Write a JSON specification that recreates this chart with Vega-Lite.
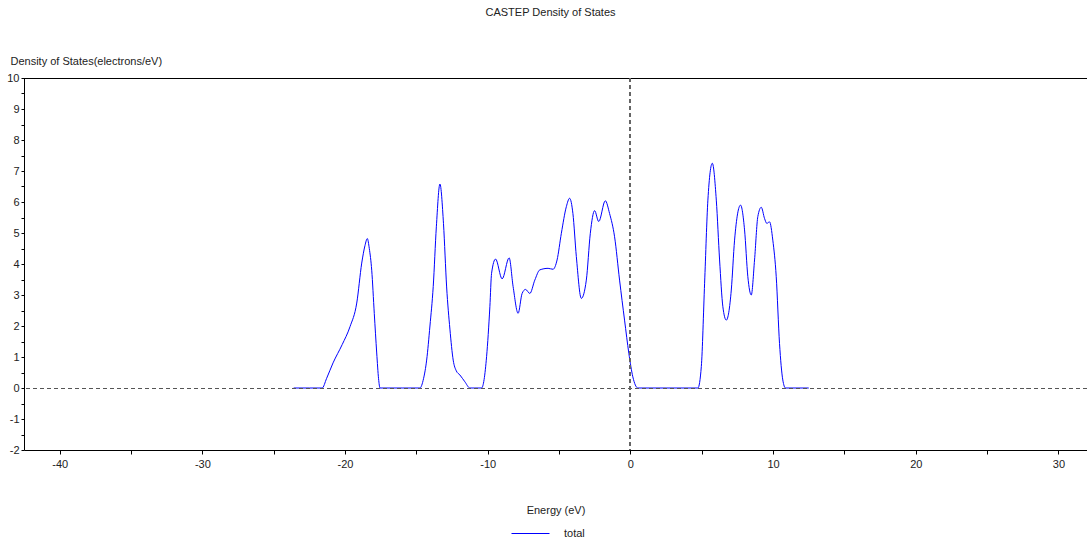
{
  "$schema": "https://vega.github.io/schema/vega-lite/v6.json",
  "width": 1063,
  "height": 372,
  "autosize": {"type": "none"},
  "padding": {"left": 24, "top": 78, "right": 0, "bottom": 91},
  "background": "white",
  "config": {
    "view": {"stroke": null},
    "font": "Liberation Sans",
    "axis": {"labelFont": "Liberation Sans", "titleFont": "Liberation Sans", "labelFontSize": 11, "titleFontSize": 11, "titleFontWeight": "normal", "labelColor": "#222", "titleColor": "#222", "domainColor": "#000", "tickColor": "#000", "grid": false, "labelOverlap": false},
    "legend": {"symbolStrokeColor": "#0000ff"}
  },
  "title": {"text": "CASTEP Density of States", "font": "Liberation Sans", "fontSize": 11, "fontWeight": "normal", "color": "#222", "anchor": "middle", "offset": 37, "dx": -5},
  "data": {"values": [
    {"E": -23.6, "dos": 0, "series": "total"},
    {"E": -22.5, "dos": 0, "series": "total"},
    {"E": -21.6, "dos": 0, "series": "total"},
    {"E": -21.3, "dos": 0.3, "series": "total"},
    {"E": -20.84, "dos": 0.81, "series": "total"},
    {"E": -20.2, "dos": 1.4, "series": "total"},
    {"E": -19.65, "dos": 1.98, "series": "total"},
    {"E": -19.18, "dos": 2.74, "series": "total"},
    {"E": -18.83, "dos": 4.03, "series": "total"},
    {"E": -18.6, "dos": 4.6, "series": "total"},
    {"E": -18.44, "dos": 4.82, "series": "total"},
    {"E": -18.3, "dos": 4.5, "series": "total"},
    {"E": -18.13, "dos": 3.8, "series": "total"},
    {"E": -17.95, "dos": 2.4, "series": "total"},
    {"E": -17.78, "dos": 1.13, "series": "total"},
    {"E": -17.65, "dos": 0.3, "series": "total"},
    {"E": -17.55, "dos": 0, "series": "total"},
    {"E": -16, "dos": 0, "series": "total"},
    {"E": -14.75, "dos": 0, "series": "total"},
    {"E": -14.5, "dos": 0.3, "series": "total"},
    {"E": -14.28, "dos": 0.9, "series": "total"},
    {"E": -14.05, "dos": 2.0, "series": "total"},
    {"E": -13.82, "dos": 3.27, "series": "total"},
    {"E": -13.6, "dos": 5.2, "series": "total"},
    {"E": -13.35, "dos": 6.58, "series": "total"},
    {"E": -13.1, "dos": 5.3, "series": "total"},
    {"E": -12.88, "dos": 3.26, "series": "total"},
    {"E": -12.65, "dos": 1.9, "series": "total"},
    {"E": -12.42, "dos": 0.9, "series": "total"},
    {"E": -12.2, "dos": 0.55, "series": "total"},
    {"E": -11.95, "dos": 0.42, "series": "total"},
    {"E": -11.6, "dos": 0.2, "series": "total"},
    {"E": -11.25, "dos": 0, "series": "total"},
    {"E": -10.9, "dos": 0, "series": "total"},
    {"E": -10.43, "dos": 0, "series": "total"},
    {"E": -10.08, "dos": 1.01, "series": "total"},
    {"E": -9.85, "dos": 2.62, "series": "total"},
    {"E": -9.73, "dos": 3.7, "series": "total"},
    {"E": -9.45, "dos": 4.16, "series": "total"},
    {"E": -8.99, "dos": 3.52, "series": "total"},
    {"E": -8.5, "dos": 4.2, "series": "total"},
    {"E": -8.22, "dos": 3.27, "series": "total"},
    {"E": -7.87, "dos": 2.41, "series": "total"},
    {"E": -7.59, "dos": 3.05, "series": "total"},
    {"E": -7.35, "dos": 3.18, "series": "total"},
    {"E": -7.05, "dos": 3.05, "series": "total"},
    {"E": -6.7, "dos": 3.48, "series": "total"},
    {"E": -6.35, "dos": 3.81, "series": "total"},
    {"E": -5.77, "dos": 3.86, "series": "total"},
    {"E": -5.42, "dos": 3.83, "series": "total"},
    {"E": -5.14, "dos": 4.13, "series": "total"},
    {"E": -4.84, "dos": 4.99, "series": "total"},
    {"E": -4.49, "dos": 5.85, "series": "total"},
    {"E": -4.26, "dos": 6.12, "series": "total"},
    {"E": -4.03, "dos": 5.63, "series": "total"},
    {"E": -3.79, "dos": 4.24, "series": "total"},
    {"E": -3.44, "dos": 2.89, "series": "total"},
    {"E": -3.09, "dos": 3.48, "series": "total"},
    {"E": -2.81, "dos": 4.99, "series": "total"},
    {"E": -2.51, "dos": 5.72, "series": "total"},
    {"E": -2.22, "dos": 5.37, "series": "total"},
    {"E": -1.76, "dos": 6.04, "series": "total"},
    {"E": -1.46, "dos": 5.63, "series": "total"},
    {"E": -1.11, "dos": 4.88, "series": "total"},
    {"E": -0.76, "dos": 3.48, "series": "total"},
    {"E": -0.41, "dos": 2.19, "series": "total"},
    {"E": -0.11, "dos": 1.12, "series": "total"},
    {"E": 0.17, "dos": 0.36, "series": "total"},
    {"E": 0.52, "dos": 0, "series": "total"},
    {"E": 2.5, "dos": 0, "series": "total"},
    {"E": 4.73, "dos": 0, "series": "total"},
    {"E": 4.97, "dos": 0.69, "series": "total"},
    {"E": 5.2, "dos": 3.38, "series": "total"},
    {"E": 5.43, "dos": 6.06, "series": "total"},
    {"E": 5.74, "dos": 7.25, "series": "total"},
    {"E": 6.02, "dos": 6.06, "series": "total"},
    {"E": 6.25, "dos": 4.13, "series": "total"},
    {"E": 6.48, "dos": 2.62, "series": "total"},
    {"E": 6.72, "dos": 2.19, "series": "total"},
    {"E": 7.07, "dos": 3.16, "series": "total"},
    {"E": 7.3, "dos": 4.77, "series": "total"},
    {"E": 7.72, "dos": 5.9, "series": "total"},
    {"E": 8.0, "dos": 5.1, "series": "total"},
    {"E": 8.23, "dos": 3.59, "series": "total"},
    {"E": 8.47, "dos": 3.0, "series": "total"},
    {"E": 8.7, "dos": 4.13, "series": "total"},
    {"E": 8.93, "dos": 5.53, "series": "total"},
    {"E": 9.17, "dos": 5.83, "series": "total"},
    {"E": 9.4, "dos": 5.47, "series": "total"},
    {"E": 9.56, "dos": 5.31, "series": "total"},
    {"E": 9.75, "dos": 5.36, "series": "total"},
    {"E": 9.98, "dos": 4.77, "series": "total"},
    {"E": 10.22, "dos": 3.59, "series": "total"},
    {"E": 10.45, "dos": 1.44, "series": "total"},
    {"E": 10.68, "dos": 0.26, "series": "total"},
    {"E": 10.87, "dos": 0, "series": "total"},
    {"E": 12.5, "dos": 0, "series": "total"}
  ]},
  "layer": [
    {
      "mark": {"type": "line", "interpolate": "monotone", "strokeWidth": 1, "color": "#0000ff"},
      "encoding": {
        "x": {"field": "E", "type": "quantitative",
          "scale": {"domain": [-42.5, 32], "nice": false, "zero": false},
          "axis": {"title": "Energy (eV)", "values": [-40, -35, -30, -25, -20, -15, -10, -5, 0, 5, 10, 15, 20, 25, 30], "labelExpr": "datum.value % 10 == 0 ? '' + datum.value : ''", "labelOverlap": false, "tickSize": 4, "labelPadding": 4, "titlePadding": 35}},
        "y": {"field": "dos", "type": "quantitative",
          "scale": {"domain": [-2, 10], "nice": false, "zero": false},
          "axis": {"title": "Density of States(electrons/eV)", "values": [-2, -1.5, -1, -0.5, 0, 0.5, 1, 1.5, 2, 2.5, 3, 3.5, 4, 4.5, 5, 5.5, 6, 6.5, 7, 7.5, 8, 8.5, 9, 9.5, 10], "labelExpr": "datum.value % 1 == 0 ? '' + datum.value : ''", "labelOverlap": false, "labelBound": false, "tickSize": 3, "labelPadding": 2, "titleAngle": 0, "titleAlign": "left", "titleBaseline": "alphabetic", "titleX": -14, "titleY": -14}},
        "stroke": {"field": "series", "type": "nominal",
          "scale": {"domain": ["total"], "range": ["#0000ff"]},
          "legend": {"title": null, "orient": "none", "legendX": 487, "legendY": 436, "symbolType": "stroke", "symbolSize": 1444, "symbolStrokeWidth": 1, "symbolStrokeColor": "#0000ff", "labelFont": "Liberation Sans", "labelFontSize": 11, "labelColor": "#222", "labelOffset": 14, "padding": 0}}
      }
    },
    {
      "mark": {"type": "rule", "stroke": "#000", "strokeWidth": 1, "yOffset": 0.5},
      "encoding": {"y": {"datum": 10, "type": "quantitative",
          "axis": {"title": "Density of States(electrons/eV)", "values": [-2, -1.5, -1, -0.5, 0, 0.5, 1, 1.5, 2, 2.5, 3, 3.5, 4, 4.5, 5, 5.5, 6, 6.5, 7, 7.5, 8, 8.5, 9, 9.5, 10], "labelExpr": "datum.value % 1 == 0 ? '' + datum.value : ''", "labelOverlap": false, "labelBound": false, "tickSize": 3, "labelPadding": 2, "titleAngle": 0, "titleAlign": "left", "titleBaseline": "alphabetic", "titleX": -14, "titleY": -14}}}
    },
    {
      "mark": {"type": "rule", "stroke": "#555", "strokeWidth": 1, "strokeDash": [4, 3], "yOffset": 0.5},
      "encoding": {"y": {"datum": 0, "type": "quantitative",
          "axis": {"title": "Density of States(electrons/eV)", "values": [-2, -1.5, -1, -0.5, 0, 0.5, 1, 1.5, 2, 2.5, 3, 3.5, 4, 4.5, 5, 5.5, 6, 6.5, 7, 7.5, 8, 8.5, 9, 9.5, 10], "labelExpr": "datum.value % 1 == 0 ? '' + datum.value : ''", "labelOverlap": false, "labelBound": false, "tickSize": 3, "labelPadding": 2, "titleAngle": 0, "titleAlign": "left", "titleBaseline": "alphabetic", "titleX": -14, "titleY": -14}}}
    },
    {
      "mark": {"type": "rule", "stroke": "#666", "strokeWidth": 1, "strokeDash": [4, 3]},
      "encoding": {"x": {"datum": 0, "type": "quantitative"}}
    }
  ]
}
